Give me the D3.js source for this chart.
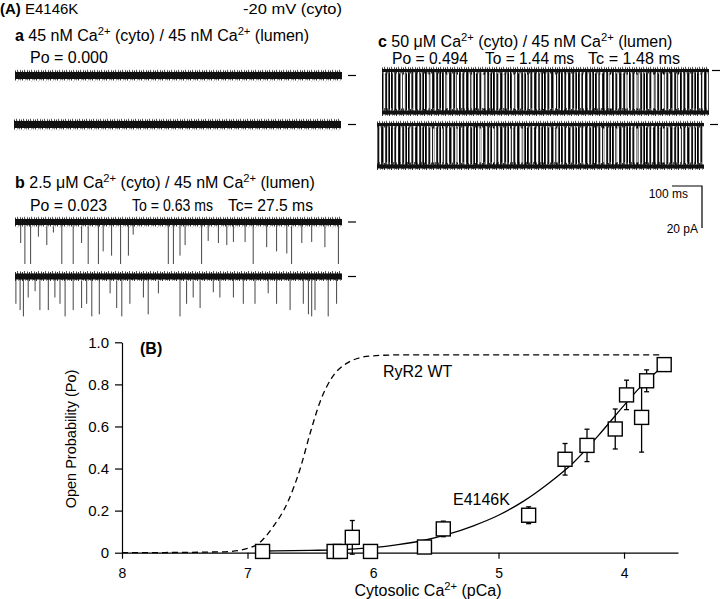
<!DOCTYPE html>
<html>
<head>
<meta charset="utf-8">
<script src="https://cdn.jsdelivr.net/npm/d3@7"></script>
<style>
  body { margin: 0; background: #fff; }
  svg { font-family: "Liberation Sans", Arial, sans-serif; }
</style>
</head>
<body>
<div id="chart"></div>
<script>
// ---- panel B data ----
const pCaValues = [6.88, 6.31, 6.26, 6.165, 6.02, 5.59, 5.44, 4.76, 4.47, 4.295, 4.07, 3.98, 3.86, 3.82, 3.68];
const poValues  = [0.006, 0.006, 0.006, 0.073, 0.006, 0.027, 0.113, 0.178, 0.444, 0.51, 0.588, 0.75, 0.643, 0.817, 0.894];
const poSem     = [0, 0, 0, 0.08, 0, 0, 0.037, 0.04, 0.075, 0.077, 0.095, 0.07, 0.165, 0.052, 0];

// fitted curves as [pCa, Po]
const wtCurve = [[8, 0], [7.6, 0.001], [7.3, 0.003], [7.14, 0.006], [7.0, 0.02], [6.92, 0.04], [6.8, 0.12],
  [6.68, 0.24], [6.58, 0.40], [6.5, 0.57], [6.42, 0.72], [6.33, 0.83], [6.21, 0.9], [6.02, 0.935],
  [5.8, 0.94], [3.7, 0.94]];
const mutCurve = [[6.88, 0.008], [6.5, 0.011], [6.2, 0.016], [6.0, 0.024], [5.8, 0.038], [5.6, 0.058],
  [5.4, 0.088], [5.2, 0.128], [5.0, 0.178], [4.8, 0.245], [4.6, 0.33], [4.4, 0.43], [4.2, 0.56],
  [4.0, 0.70], [3.85, 0.80], [3.7, 0.88]];

const xTicks = [8, 7, 6, 5, 4];
const yTicks = [0, 0.2, 0.4, 0.6, 0.8, 1.0];

// ---- panel A data: single channel records, 1090 ms each ----
const traceMs = 1090;
// openings in b: [time ms, amplitude pA]
const openingsB1 = [[19,10],[33,20],[52,20],[78,7],[106,11],[128,5],[156,20],[194,20],[222,10],[244,20],
  [278,20],[294,14],[322,16],[352,20],[378,16],[394,6],[511,20],[528,20],[550,16],[567,11],[622,20],
  [644,9],[678,10],[706,11],[728,9.5],[767,9.5],[794,20],[839,12],[872,14],[906,15],[922,20],[956,10],
  [989,9.5],[1033,12],[1078,20]];
const openingsB2 = [[3,13],[17,16],[28,19],[44,10],[67,7],[83,16],[111,16],[133,10],[150,13],[167,19],
  [194,16],[222,15],[239,13],[256,19],[281,18],[317,8],[339,15],[356,19],[383,13],[428,10],[444,18],
  [478,8],[550,19],[572,13],[594,10],[617,15],[661,7.5],[683,10],[728,10],[761,13],[800,13],[844,8],
  [872,13],[917,16],[961,13],[978,18],[989,19],[1000,16],[1044,19],[1072,13]];
// longer closures visible as white gaps in c
const gapsC1 = [72, 122, 156, 217, 252, 300, 339, 406, 439, 483, 528, 578, 617, 672, 728, 761, 817, 850, 906, 939, 989, 1028, 1061];
const gapsC2 = [67, 111, 189, 217, 267, 344, 389, 444, 483, 533, 600, 633, 689, 756, 800, 867, 917, 956, 1011, 1056];
const openLevelPa = 20;
const scaleBarMs = 100;
const scaleBarPa = 20;

const svg = d3.select("#chart").append("svg")
  .attr("width", 720)
  .attr("height", 599);
const defs = svg.append("defs");

// text with superscripts / bold parts
function richText(g, x, y, parts, size, anchor, len) {
  const t = g.append("text")
    .attr("x", x).attr("y", y)
    .attr("text-anchor", anchor || "start")
    .style("font-size", size + "px");
  if (len) t.attr("textLength", len).attr("lengthAdjust", "spacingAndGlyphs");
  let up = false;
  parts.forEach(p => {
    const s = t.append("tspan").text(p.t);
    if (p.sup) {
      s.attr("dy", -size * 0.36).style("font-size", (size * 0.7) + "px");
      up = true;
    } else if (up) {
      s.attr("dy", size * 0.36);
      up = false;
    }
    if (p.b) s.style("font-weight", "bold");
  });
  return t;
}

// ================= panel A =================
const pA = svg.append("g");
const tScale = d3.scaleLinear().domain([0, traceMs]).range([0, 327]);
const iScale = d3.scaleLinear().domain([0, 20]).range([0, 42]);

let patId = 0;
function noiseBand(g, x0, yc, half) {
  const id = "fz" + (patId++);
  const h = half * 2 + 5;
  const pat = defs.append("pattern")
    .attr("id", id)
    .attr("patternUnits", "userSpaceOnUse")
    .attr("x", x0).attr("y", yc - h / 2)
    .attr("width", 7).attr("height", h);
  const bars = [[0, 1, h - 2, "#333"], [1, 3, h - 7, "#888"], [2, 0, h - 3, "#555"], [3, 2, h - 3, "#999"],
    [4, 4, h - 6, "#666"], [5, 0.5, h - 2, "#444"], [6, 2.5, h - 5, "#aaa"]];
  bars.forEach(b => pat.append("rect").attr("x", b[0]).attr("y", b[1]).attr("width", 1).attr("height", b[2]).attr("fill", b[3]));
  g.append("rect").attr("x", x0).attr("y", yc - h / 2).attr("width", tScale(traceMs)).attr("height", h)
    .attr("fill", "url(#" + id + ")");
  g.append("rect").attr("x", x0).attr("y", yc - half).attr("width", tScale(traceMs)).attr("height", half * 2)
    .attr("fill", "#111");
}

function marker(g, x, y) {
  g.append("line").attr("x1", x).attr("x2", x + 8).attr("y1", y).attr("y2", y)
    .attr("stroke", "#000").attr("stroke-width", 1.2);
}

// header
richText(pA, 0, 13.6, [{ t: "(A)", b: true }, { t: " E4146K" }], 15);
richText(pA, 243, 13.6, [{ t: "-20 mV (cyto)" }], 15, "start", 99);

// a
richText(pA, 15, 41, [{ t: "a", b: true }, { t: " 45 nM Ca" }, { t: "2+", sup: true }, { t: " (cyto) / 45 nM Ca" }, { t: "2+", sup: true }, { t: " (lumen)" }], 16);
richText(pA, 30, 63, [{ t: "Po = 0.000" }], 16);
[{ x0: 15, y: 75.5 }, { x0: 14, y: 124.5 }].forEach(r => {
  noiseBand(pA, r.x0, r.y, 3.5);
  marker(pA, 348, r.y);
});

// b
richText(pA, 15, 188, [{ t: "b", b: true }, { t: " 2.5 \u03BCM Ca" }, { t: "2+", sup: true }, { t: " (cyto) / 45 nM Ca" }, { t: "2+", sup: true }, { t: " (lumen)" }], 16);
richText(pA, 30, 211, [{ t: "Po = 0.023" }], 16, "start", 77);
richText(pA, 132, 211, [{ t: "To = 0.63 ms" }], 16, "start", 81);
richText(pA, 228, 211, [{ t: "Tc= 27.5 ms" }], 16, "start", 85);
[{ x0: 15, y: 222, ev: openingsB1 }, { x0: 15, y: 276.5, ev: openingsB2 }].forEach(r => {
  pA.append("g").selectAll("line").data(r.ev).enter().append("line")
    .attr("x1", d => r.x0 + tScale(d[0])).attr("x2", d => r.x0 + tScale(d[0]))
    .attr("y1", r.y).attr("y2", d => r.y + iScale(d[1]))
    .attr("stroke", "#444").attr("stroke-width", 1);
  noiseBand(pA, r.x0, r.y, 3);
  marker(pA, 348, r.y);
});

// c
richText(pA, 378, 47, [{ t: "c", b: true }, { t: " 50 \u03BCM Ca" }, { t: "2+", sup: true }, { t: " (cyto) / 45 nM Ca" }, { t: "2+", sup: true }, { t: " (lumen)" }], 16);
richText(pA, 392, 64, [{ t: "Po = 0.494" }], 16, "start", 76);
richText(pA, 485, 64, [{ t: "To = 1.44 ms" }], 16, "start", 89);
richText(pA, 588, 64, [{ t: "Tc = 1.48 ms" }], 16, "start", 92);

const burstCols = ["#000", "#333", "#fff", "#666", "#111", "#bbb", "#fff", "#222", "#000", "#888",
  "#fff", "#444", "#111", "#ddd", "#555", "#000", "#fff"];
defs.append("pattern").attr("id", "burst")
  .attr("patternUnits", "userSpaceOnUse").attr("width", burstCols.length).attr("height", 4)
  .call(p => {
    burstCols.forEach((c, i) =>
      p.append("rect").attr("x", i).attr("y", 0).attr("width", 1).attr("height", 4).attr("fill", c));
  });

[{ x0: 382, y: 70.5, gaps: gapsC1, m: 712 }, { x0: 377, y: 124.5, gaps: gapsC2, m: 710 }].forEach(r => {
  const yOpen = r.y + iScale(openLevelPa);
  pA.append("rect").attr("x", r.x0).attr("y", r.y).attr("width", tScale(traceMs)).attr("height", yOpen - r.y)
    .attr("fill", "url(#burst)");
  pA.append("g").selectAll("line").data(r.gaps).enter().append("line")
    .attr("x1", d => r.x0 + tScale(d)).attr("x2", d => r.x0 + tScale(d))
    .attr("y1", r.y + 4).attr("y2", yOpen - 4)
    .attr("stroke", "#fff").attr("stroke-width", 1.2);
  noiseBand(pA, r.x0, r.y, 1.5);
  noiseBand(pA, r.x0, yOpen, 2);
  marker(pA, r.m, r.y);
});

// scale bar
const sbX = 702, sbY = 186;
pA.append("path")
  .attr("d", `M${sbX - tScale(scaleBarMs)},${sbY}H${sbX}V${sbY + iScale(scaleBarPa)}`)
  .attr("fill", "none").attr("stroke", "#000").attr("stroke-width", 1.2);
pA.append("text").attr("x", 688).attr("y", 198).attr("text-anchor", "end").style("font-size", "12px").text(scaleBarMs + " ms");
pA.append("text").attr("x", 698).attr("y", 233).attr("text-anchor", "end").style("font-size", "12px").text(scaleBarPa + " pA");

// ================= panel B =================
const pB = svg.append("g");
const x = d3.scaleLinear().domain([8, 3.57]).range([122, 678]);
const y = d3.scaleLinear().domain([0, 1]).range([552.7, 342.3]);

pB.append("g")
  .attr("transform", `translate(0, ${y(0)})`)
  .call(d3.axisBottom(x).tickValues(xTicks).tickSize(6).tickSizeOuter(0).tickPadding(9).tickFormat(d3.format("d")))
  .call(g => g.selectAll("path, line").attr("stroke", "#000").attr("stroke-width", 1.2))
  .selectAll("text").style("font-size", "14px").attr("fill", "#000").style("font-family", "Liberation Sans, Arial, sans-serif");

pB.append("g")
  .attr("transform", `translate(${x(8)}, 0)`)
  .call(d3.axisLeft(y).tickValues(yTicks).tickSize(7).tickSizeOuter(0).tickPadding(6)
    .tickFormat(d => d === 0 ? "0" : d.toFixed(1)))
  .call(g => g.selectAll("path, line").attr("stroke", "#000").attr("stroke-width", 1.2))
  .selectAll("text").style("font-size", "15px").attr("fill", "#000").style("font-family", "Liberation Sans, Arial, sans-serif");

pB.append("text")
  .attr("transform", "rotate(-90)")
  .attr("x", -439).attr("y", 76)
  .attr("text-anchor", "middle")
  .style("font-size", "14.5px")
  .text("Open Probability (Po)");

richText(pB, 428, 596, [{ t: "Cytosolic Ca" }, { t: "2+", sup: true }, { t: " (pCa)" }], 16, "middle");

const curveLine = d3.line()
  .x(d => x(d[0]))
  .y(d => y(d[1]))
  .curve(d3.curveMonotoneX);

pB.append("path").datum(wtCurve)
  .attr("d", curveLine)
  .attr("fill", "none").attr("stroke", "#000").attr("stroke-width", 1.3)
  .attr("stroke-dasharray", "6,4");

pB.append("path").datum(mutCurve)
  .attr("d", curveLine)
  .attr("fill", "none").attr("stroke", "#000").attr("stroke-width", 1.3);

const points = pCaValues.map((p, i) => ({ pCa: p, po: poValues[i], sem: poSem[i] }));

const errG = pB.append("g").selectAll("g").data(points.filter(d => d.sem > 0)).enter().append("g")
  .attr("stroke", "#000").attr("stroke-width", 1.3);
errG.append("line")
  .attr("x1", d => x(d.pCa)).attr("x2", d => x(d.pCa))
  .attr("y1", d => y(d.po - d.sem)).attr("y2", d => y(d.po + d.sem));
errG.append("line")
  .attr("x1", d => x(d.pCa) - 2.5).attr("x2", d => x(d.pCa) + 2.5)
  .attr("y1", d => y(d.po + d.sem)).attr("y2", d => y(d.po + d.sem));
errG.append("line")
  .attr("x1", d => x(d.pCa) - 2.5).attr("x2", d => x(d.pCa) + 2.5)
  .attr("y1", d => y(d.po - d.sem)).attr("y2", d => y(d.po - d.sem));

const sq = 14;
pB.append("g").selectAll("rect").data(points).enter().append("rect")
  .attr("x", d => x(d.pCa) - sq / 2)
  .attr("y", d => y(d.po) - sq / 2)
  .attr("width", sq).attr("height", sq)
  .attr("fill", "#fff").attr("stroke", "#000").attr("stroke-width", 1.4);

pB.append("text").attr("x", 140).attr("y", 354).style("font-size", "16px").style("font-weight", "bold").text("(B)");
pB.append("text").attr("x", 383).attr("y", 377).style("font-size", "16px").text("RyR2 WT");
pB.append("text").attr("x", 453).attr("y", 505).style("font-size", "16px").text("E4146K");
</script>
</body>
</html>
